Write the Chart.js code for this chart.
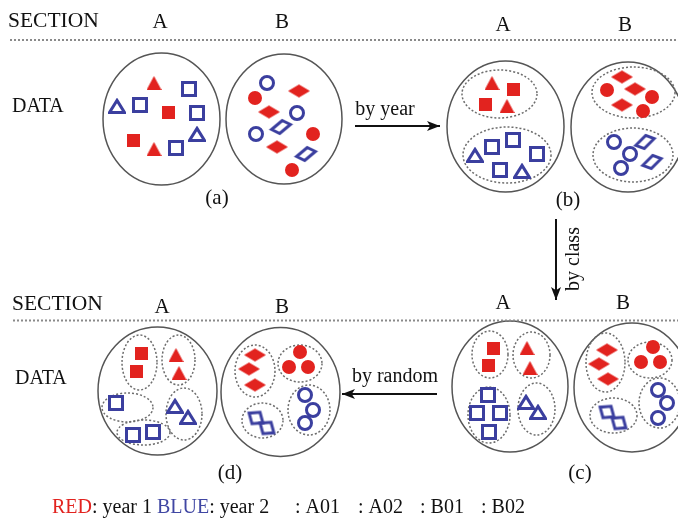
<!DOCTYPE html>
<html><head><meta charset="utf-8">
<script src="https://cdn.jsdelivr.net/npm/chart.js@4/dist/chart.umd.min.js"></script>
<style>html,body{margin:0;padding:0;background:#fff}#wrap{width:678px;height:518px;position:relative}</style>
</head><body><div id="wrap"><canvas id="c" width="678" height="518"></canvas></div>
<script>
// ---- data: marker positions (diagram units = pixels of the 678x518 figure) ----
const redSquares    = [[168,112],[133,140],[513,89],[485,104],[141,353],[136,371],[493,348],[488,365]];
const redTriangles  = [[154,83],[154,149],[492,83],[507,106],[176,355],[179,373],[527,348],[530,368]];
const blueSquares   = [[140,105],[189,89],[197,113],[176,148],[492,147],[513,140],[537,154],[500,170],[116,403],[133,435],[153,432],[488,395],[477,413],[500,413],[489,432]];
const blueTriangles = [[117,106],[197,134],[475,155],[522,171],[175,406],[188,417],[526,402],[538,412]];
const redCircles    = [[255,98],[313,134],[292,170],[607,90],[652,97],[643,111],[300,352],[289,367],[308,367],[653,347],[641,362],[660,362]];
const blueCircles   = [[267,83],[297,113],[256,134],[614,142],[630,154],[621,168],[305,395],[313,410],[305,423],[658,390],[667,403],[658,418]];
const redDiamonds   = [[299,91],[269,112],[277,147],[622,77],[635,89],[622,105],[255,355],[249,369],[255,385],[607,350],[599,364],[608,379]];
const blueDiamonds  = [[281,127],[306,154],[645,142],[652,162],[256,418],[267,428],[607,412],[619,423]];
const blueDiamondTilt = [0,0,-5,-5,35,35,35,35];
const blueDiamondShear = [2.5,2.5,2.5,2.5,0,0,0,0];

// groups: outer solid ellipses and inner dotted ellipses [cx, cy, rx, ry]
const outerGroups = [[161.5,119,58.5,66],[284,119,58,65],[505.5,126.5,58.5,65.5],[628,127,57,65],
                     [157.5,391,59.5,64],[280.5,392,59.5,64.5],[510,386.5,58,65.5],[632,387.5,58,64.5]];
const innerGroups = [[499.5,94,37.5,24],[507,155,44,28],[633.5,92.5,41.5,25.5],[633,155,40,27],
  [139.5,362.5,17.5,27.5],[178.5,360,16.5,25],[127.5,407.5,25.5,14.5],[143.5,432.5,26.5,12.5],[184,414,18,26],
  [255,371,20,26],[300,363.5,22,18.5],[262.5,420.5,20.5,17.5],[309,410,21,25],
  [490,354.5,18,23.5],[531.5,355,18.5,23],[489,415,21,28],[536.5,409,18.5,26],
  [605.5,362.5,19.5,29.5],[650,360,22,18],[613.5,415.5,23.5,17.5],[659.5,403,20.5,25]];

// separators and arrows
const separators = [[[10,40],[678,40]],[[13,320.5],[678,320.5]]];
const arrows = [[[355,126],[440,126]],[[556,219],[556,300]],[[437,394],[342,394]]];

// text
const sectionLabels = ['SECTION','DATA'];
const columnLabels = ['A','B'];
const stepLabels = ['by year','by class','by random'];
const panelLabels = ['(a)','(b)','(c)','(d)'];
const legendLabels = ['RED',': year 1 ','BLUE',': year 2',': A01',': A02',': B01',': B02'];

// ---- layout of text ----
const textLayout = [
  {t:sectionLabels[0], x:8,  y:27, a:'left', s:21.5},
  {t:columnLabels[0], x:160, y:28, a:'center', s:21},
  {t:columnLabels[1], x:282, y:28, a:'center', s:21},
  {t:columnLabels[0], x:503, y:31, a:'center', s:21},
  {t:columnLabels[1], x:625, y:31, a:'center', s:21},
  {t:sectionLabels[1], x:12, y:112, a:'left'},
  {t:sectionLabels[0], x:12, y:310, a:'left', s:21.5},
  {t:columnLabels[0], x:162, y:313, a:'center', s:21},
  {t:columnLabels[1], x:282, y:313, a:'center', s:21},
  {t:columnLabels[0], x:503, y:309, a:'center', s:21},
  {t:columnLabels[1], x:623, y:309, a:'center', s:21},
  {t:sectionLabels[1], x:15, y:384, a:'left'},
  {t:stepLabels[0], x:385, y:115, a:'center'},
  {t:stepLabels[2], x:395, y:382, a:'center'},
  {t:panelLabels[0], x:217, y:204, a:'center', s:21},
  {t:panelLabels[1], x:568, y:206, a:'center', s:21},
  {t:panelLabels[2], x:580, y:479, a:'center', s:21},
  {t:panelLabels[3], x:230, y:479, a:'center', s:21},
];

const RED = '#e2231f', BLUE = '#3b3f9f';
const FONT = "'Liberation Serif', 'DejaVu Serif', serif";

function marker(kind, color, filled, tiltDeg, shear, dimsOverride) {
  const c = document.createElement('canvas');
  const dims = dimsOverride || {square: filled ? [13,13] : [16,16], triangle: filled ? [15,14] : [18,16],
    circle: filled ? [14,14] : [16,16], diamond: filled ? [22,13] : [23,16]}[kind];
  const pad = kind === 'diamond' ? 8 : 0;
  c.width = dims[0] + 2*pad; c.height = dims[1] + 2*pad + (kind === 'diamond' ? 6 : 0);
  const g = c.getContext('2d');
  const w = dims[0], h = dims[1], lw = 3, i = filled ? 0 : lw/2, s = shear || 0;
  g.fillStyle = color; g.strokeStyle = color; g.lineWidth = lw; g.lineJoin = 'miter';
  g.translate(c.width/2, c.height/2);
  g.rotate((tiltDeg || 0) * Math.PI/180);
  g.translate(-w/2, -h/2);
  g.beginPath();
  if (kind === 'square') g.rect(i, i, w-2*i, h-2*i);
  else if (kind === 'triangle') { g.moveTo(w/2, i*1.6); g.lineTo(w-i, h-i); g.lineTo(i, h-i); g.closePath(); }
  else if (kind === 'circle') g.arc(w/2, h/2, w/2 - i, 0, Math.PI*2);
  else { g.moveTo(w/2 + s*0.5, i); g.lineTo(w-i*1.4, h/2 - s); g.lineTo(w/2 - s*0.5, h-i); g.lineTo(i*1.4, h/2 + s); g.closePath(); }
  if (filled) g.fill(); else g.stroke();
  return c;
}

const pts = arr => arr.map(p => ({x:p[0], y:p[1]}));
function markerSet(label, arr, style) {
  return {label, data: pts(arr), type:'scatter', showLine:false, pointStyle: style,
    pointRadius: 8, pointHoverRadius: 8};
}
function lineSet(label, seg, color, width, dash) {
  return {label, data: pts(seg), type:'line', showLine:true, pointRadius:0, borderColor:color,
    borderWidth:width, borderDash:dash || [], fill:false, tension:0};
}

const diagramPlugin = {
  id: 'diagram',
  beforeDatasetsDraw(chart) {
    const {ctx, scales:{x, y}} = chart;
    const ell = (e) => {
      const cx = x.getPixelForValue(e[0]), cy = y.getPixelForValue(e[1]);
      const rx = Math.abs(x.getPixelForValue(e[0]+e[2]) - cx), ry = Math.abs(y.getPixelForValue(e[1]+e[3]) - cy);
      ctx.beginPath(); ctx.ellipse(cx, cy, rx, ry, 0, 0, Math.PI*2); ctx.stroke();
    };
    ctx.save();
    ctx.strokeStyle = '#555'; ctx.lineWidth = 1.5; ctx.setLineDash([]);
    outerGroups.forEach(ell);
    ctx.strokeStyle = '#6d6d6d'; ctx.lineWidth = 1.5; ctx.setLineDash([2,2]);
    innerGroups.forEach(ell);
    ctx.restore();
  },
  afterDatasetsDraw(chart) {
    const {ctx, scales:{x, y}} = chart;
    ctx.save();
    ctx.fillStyle = '#111';
    arrows.forEach(seg => {
      const x0 = x.getPixelForValue(seg[0][0]), y0 = y.getPixelForValue(seg[0][1]);
      const x1 = x.getPixelForValue(seg[1][0]), y1 = y.getPixelForValue(seg[1][1]);
      const ang = Math.atan2(y1-y0, x1-x0), L = 13, W = 5;
      ctx.beginPath();
      ctx.moveTo(x1, y1);
      ctx.lineTo(x1 - L*Math.cos(ang) - W*Math.sin(ang), y1 - L*Math.sin(ang) + W*Math.cos(ang));
      ctx.lineTo(x1 - L*0.75*Math.cos(ang), y1 - L*0.75*Math.sin(ang));
      ctx.lineTo(x1 - L*Math.cos(ang) + W*Math.sin(ang), y1 - L*Math.sin(ang) - W*Math.cos(ang));
      ctx.closePath(); ctx.fill();
    });
    ctx.fillStyle = '#111'; ctx.textBaseline = 'alphabetic';
    textLayout.forEach(l => {
      ctx.font = (l.s || 20) + 'px ' + FONT;
      ctx.textAlign = l.a;
      ctx.fillText(l.t, x.getPixelForValue(l.x), y.getPixelForValue(l.y));
    });
    ctx.save();
    ctx.font = '20px ' + FONT;
    ctx.translate(x.getPixelForValue(579), y.getPixelForValue(259));
    ctx.rotate(-Math.PI/2);
    ctx.textAlign = 'center';
    ctx.fillText(stepLabels[1], 0, 0);
    ctx.restore();
    ctx.font = '20px ' + FONT; ctx.textAlign = 'left';
    const ly = y.getPixelForValue(513);
    let lx = x.getPixelForValue(52);
    const legendColors = [RED, '#111', '#4047a3', '#111'];
    for (let k = 0; k < 4; k++) {
      ctx.fillStyle = legendColors[k];
      ctx.fillText(legendLabels[k], lx, ly);
      lx += ctx.measureText(legendLabels[k]).width;
    }
    ctx.fillStyle = '#111';
    const legendX = [295, 358, 420, 481];
    for (let k = 4; k < 8; k++) ctx.fillText(legendLabels[k], x.getPixelForValue(legendX[k-4]), ly);
    ctx.restore();
  }
};

new Chart(document.getElementById('c'), {
  type: 'scatter',
  data: { datasets: [
    lineSet('sep1', separators[0], '#8a8a8a', 2, [2,2]),
    lineSet('sep2', separators[1], '#8a8a8a', 2, [2,2]),
    lineSet('arrow1', arrows[0], '#111', 2),
    lineSet('arrow2', arrows[1], '#111', 2),
    lineSet('arrow3', arrows[2], '#111', 2),
    markerSet('red squares', redSquares, marker('square', RED, true)),
    markerSet('red triangles', redTriangles, marker('triangle', RED, true)),
    markerSet('red circles', redCircles, marker('circle', RED, true)),
    markerSet('red diamonds', redDiamonds, marker('diamond', RED, true)),
    markerSet('blue squares', blueSquares, marker('square', BLUE, false)),
    markerSet('blue triangles', blueTriangles, marker('triangle', BLUE, false)),
    markerSet('blue circles', blueCircles, marker('circle', BLUE, false)),
    markerSet('blue diamonds', blueDiamonds, blueDiamondTilt.map((t, k) =>
      marker('diamond', BLUE, false, t, blueDiamondShear[k], k >= 4 ? [21,17] : null))),
  ]},
  options: {
    responsive: false, animation: false, events: [],
    layout: { padding: 0, autoPadding: false },
    scales: {
      x: { type:'linear', min:0, max:678, display:false },
      y: { type:'linear', min:0, max:518, reverse:true, display:false }
    },
    plugins: { legend:{display:false}, tooltip:{enabled:false} }
  },
  plugins: [diagramPlugin]
});
</script>
</body></html>
